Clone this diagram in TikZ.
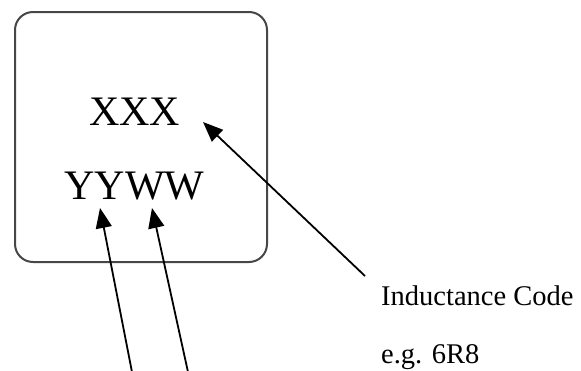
\documentclass[tikz,border=0pt]{standalone}
\usepackage{fontspec}
\setmainfont{Liberation Serif}
\usetikzlibrary{arrows.meta}
\begin{document}
\begin{tikzpicture}[x=1pt,y=-1pt,
  chip/.style={draw=black!72, line width=2pt, rounded corners=18pt},
  big/.style={font=\fontsize{42}{42}\selectfont, inner sep=0pt, anchor=base},
  lbl/.style={font=\fontsize{28.5}{28.5}\selectfont, inner sep=0pt, anchor=base west},
  pointer/.style={line width=1.8pt, -{Triangle[length=20pt,width=16pt]}}]
\useasboundingbox (0,0) rectangle (581,370);
\node[chip, minimum width=252pt, minimum height=250pt, anchor=north west] (box) at (14,11) {};
\node[big] (xxx) at (134.5,125) {XXX};
\node[big] (yyww) at (134.5,199) {YYWW};
\node[lbl] (code) at (381,305) {Inductance Code};
\node[lbl] (eg) at (381,363) {e.g. 6R8};
\coordinate (ptail) at (365,276);
\coordinate (ptip) at (203,122);
\coordinate (ytail) at (132,372);
\coordinate (ytip) at (100,208);
\coordinate (wtail) at (188,372);
\coordinate (wtip) at (152,208);
\draw[pointer] (ptail) -- (ptip);
\draw[pointer] (ytail) -- (ytip);
\draw[pointer] (wtail) -- (wtip);
\end{tikzpicture}
\end{document}
